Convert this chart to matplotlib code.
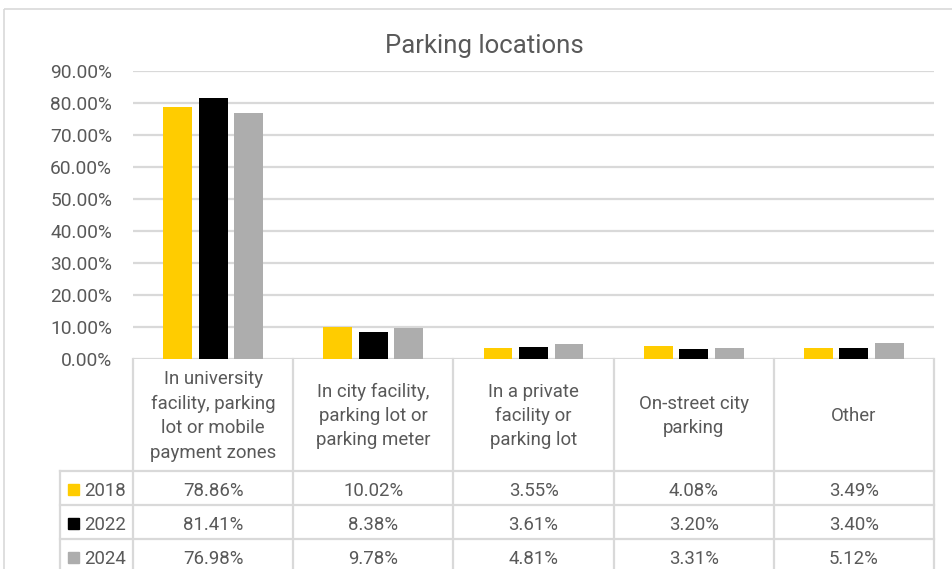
import matplotlib.pyplot as plt
from matplotlib.patches import Rectangle
from matplotlib.lines import Line2D

plt.rcParams['font.family'] = ['Roboto', 'DejaVu Sans']

categories = ["In university\nfacility, parking\nlot or mobile\npayment zones",
              "In city facility,\nparking lot or\nparking meter",
              "In a private\nfacility or\nparking lot",
              "On-street city\nparking",
              "Other"]
years = ["2018", "2022", "2024"]
v2018 = [78.86, 10.02, 3.55, 4.08, 3.49]
v2022 = [81.41, 8.38, 3.61, 3.20, 3.40]
v2024 = [76.98, 9.78, 4.81, 3.31, 5.12]
yticks = [0, 10, 20, 30, 40, 50, 60, 70, 80, 90]

colors = ["#FFCC00", "#000000", "#ADADAD"]
txt = "#595959"
grid = "#D9D9D9"

W, H = 952, 569
fig = plt.figure(figsize=(W / 100, H / 100), dpi=100)

# plot area in pixels
x0, x1 = 133, 934
ytop, ybot = 71, 359
ax = fig.add_axes([x0 / W, 1 - ybot / H, (x1 - x0) / W, (ybot - ytop) / H])
ax.set_xlim(-0.5, len(categories) - 0.5)
ax.set_ylim(0, 90)

series = [v2018, v2022, v2024]
off = 0.222
bw = 0.18
for i, vals in enumerate(series):
    xs = [k + (i - 1) * off for k in range(len(categories))]
    ax.bar(xs, vals, width=bw, color=colors[i], zorder=3)

ax.set_yticks(yticks)
ax.set_yticklabels(["%.2f%%" % t for t in yticks], fontsize=13.8, color=txt)
ax.tick_params(axis='y', length=0, pad=15)
ax.set_xticks([])
ax.grid(axis='y', color=grid, linewidth=1.6, zorder=0)
for s in ax.spines.values():
    s.set_visible(False)

fig.text(484 / W, 1 - 46.5 / H, "Parking locations", ha='center', va='center',
         fontsize=18.5, color=txt)

# overlay in pixel coordinates for table and frame
ov = fig.add_axes([0, 0, 1, 1], zorder=-1)
ov.set_xlim(0, W)
ov.set_ylim(H, 0)
ov.axis('off')
ov.add_patch(Rectangle((3.5, 8.5), 1000, 600, fill=False, edgecolor=grid, linewidth=1.2))

tab = fig.add_axes([0, 0, 1, 1])
tab.set_xlim(0, W)
tab.set_ylim(H, 0)
tab.axis('off')
tab.patch.set_alpha(0)

colw = (x1 - x0) / len(categories)
col_x = [x0 + k * colw for k in range(len(categories) + 1)]
hdr_bot = 471
row_h = 34
rows_y = [hdr_bot + r * row_h for r in range(len(years) + 1)]
lw = 1.6
fs = 13.4

# vertical lines for category columns
for cx in col_x:
    tab.add_line(Line2D([cx, cx], [ybot, H + 5], color=grid, linewidth=lw))
# left label column
tab.add_line(Line2D([60, 60], [hdr_bot, H + 5], color=grid, linewidth=lw))
# horizontal lines
for ry in rows_y:
    tab.add_line(Line2D([60, x1], [ry, ry], color=grid, linewidth=lw))

for k, cat in enumerate(categories):
    cx = x0 + (k + 0.5) * colw
    tab.text(cx, (ybot + hdr_bot) / 2 + 1, cat, ha='center', va='center',
             fontsize=fs, color=txt, linespacing=1.45)
    for r, vals in enumerate(series):
        tab.text(cx, rows_y[r] + row_h / 2 + 2.5, "%.2f%%" % vals[k], ha='center',
                 va='center', fontsize=fs, color=txt)

for r, yr in enumerate(years):
    cy = rows_y[r] + row_h / 2
    tab.add_patch(Rectangle((68, cy - 4), 11, 11, color=colors[r]))
    tab.text(84, cy + 2.5, yr, ha='left', va='center', fontsize=fs, color=txt)

fig.savefig("out.png", dpi=100)
